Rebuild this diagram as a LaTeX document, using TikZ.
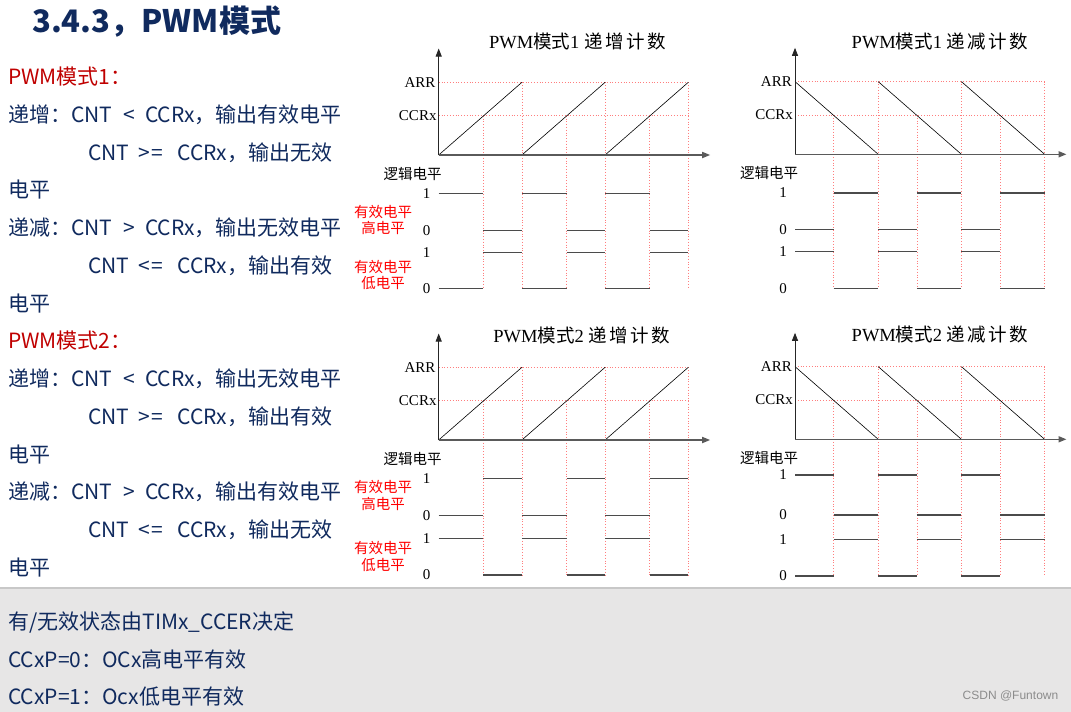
\documentclass[tikz,border=0pt]{standalone}
\usepackage{fontspec}
\setmainfont{Liberation Serif}
\newfontfamily\cjk{Noto Sans CJK SC}
\newfontfamily\wsans{Liberation Sans}
\usetikzlibrary{arrows.meta}
\definecolor{navy}{RGB}{16,42,94}
\definecolor{dred}{RGB}{192,0,0}
\definecolor{dotred}{RGB}{255,125,125}
\definecolor{bandgray}{RGB}{231,230,230}
\definecolor{bandline}{RGB}{200,200,200}
\definecolor{wavec}{RGB}{75,75,75}
\definecolor{axisc}{RGB}{90,90,90}
\tikzset{
  reddot/.style={draw=dotred, line width=0.6pt, dash pattern=on 1pt off 1.8pt},
  ramp/.style={draw=black, line width=0.6pt},
  wave/.style={draw=wavec, line width=1.2pt},
  xax/.style={draw=axisc, line width=1.6pt, -{Triangle[length=8pt,width=6pt]}},
  yax/.style={draw=black!85, line width=0.9pt, -{Triangle[length=8pt,width=6pt]}},
  lab/.style={font=\fontsize{15}{15}\selectfont, inner sep=0pt, text=black},
  cnlab/.style={font=\cjk\fontsize{14.5}{14.5}\selectfont, inner sep=0pt, text=black},
  redlab/.style={font=\cjk\fontsize{14.5}{14.5}\selectfont, inner sep=0pt, text=red},
  ptitle/.style={font=\fontsize{18.5}{18.5}\selectfont, inner sep=0pt, text=black},
  body/.style={font=\cjk\fontsize{21}{21}\selectfont, text=navy, anchor=west, inner sep=0pt},
  bodyred/.style={body, text=dred},
}
\newcommand\pwmLT{\hspace{11pt}<\hspace{10pt}}
\newcommand\pwmGT{\hspace{11pt}>\hspace{10pt}}
\newcommand\pwmGE{\hspace{9pt}>\hspace{1pt}=\hspace{15pt}}
\newcommand\pwmLE{\hspace{9pt}<\hspace{1pt}=\hspace{15pt}}
\newcommand\pwmSP{\hspace{2.5pt}}
% #1 name, #2 x0, #3 axis y, #4 1=up 0=down, #5 1=top wave starts high
\newcommand\pwmpanel[5]{%
\begin{scope}[shift={(#2,#3)}]
  \def\P{83.2}
  \ifnum#4=1 \def\cc{44.6}\else\def\cc{38.6}\fi
  \ifnum#5=1 \let\A\la \let\B\lb \let\C\ld \let\D\lc
  \else \let\A\lb \let\B\la \let\C\lc \let\D\ld \fi
  \draw[reddot] (0,-72.7) -- ({3*\P},-72.7);
  \draw[reddot] (0,-39.3) -- ({3*\P},-39.3);
  \foreach \k in {0,1,2}{
    \draw[reddot] ({\k*\P+\cc},-39.3) -- ({\k*\P+\cc},\ld);
    \draw[reddot] ({(\k+1)*\P},-72.7) -- ({(\k+1)*\P},\ld);
  }
  \foreach \k in {0,1,2}{
    \ifnum#4=1
      \draw[ramp] ({\k*\P},0) -- ({(\k+1)*\P},-72.7);
    \else
      \draw[ramp] ({\k*\P},-72.7) -- ({(\k+1)*\P},0);
    \fi
  }
  \draw[yax] (0,0) -- (0,-106.5);
  \draw[xax] (0,0) -- (271.5,0);
  \foreach \k in {0,1,2}{
    \draw[wave] ({\k*\P},\A) -- ({\k*\P+\cc},\A);
    \draw[wave] ({\k*\P+\cc},\B) -- ({(\k+1)*\P},\B);
    \draw[wave] ({\k*\P},\C) -- ({\k*\P+\cc},\C);
    \draw[wave] ({\k*\P+\cc},\D) -- ({(\k+1)*\P},\D);
  }
  \node[lab, anchor=east] (#1arr) at (-3,-72.7) {ARR};
  \node[lab, anchor=east] (#1ccr) at (-2,-39.3) {CCRx};
  \node[cnlab] (#1lj) at (-26,19) {逻辑电平};
  \node[lab] (#1a) at (-12,\la) {1};
  \node[lab] (#1b) at (-12,\lb) {0};
  \node[lab] (#1c) at (-12,\lc) {1};
  \node[lab] (#1d) at (-12,\ld) {0};
\end{scope}}
\begin{document}
\begin{tikzpicture}[x=1pt,y=-1pt]
\useasboundingbox (0,0) rectangle (1071,712);
\fill[white] (0,0) rectangle (1071,712);
% bottom band
\fill[bandgray] (0,588) rectangle (1071,712);
\draw[bandline, line width=1.2pt] (0,588) -- (1071,588);

% heading
\node[font=\cjk\bfseries\fontsize{31}{31}\selectfont, text=navy, anchor=west, inner sep=0pt] (head) at (32,22) {3.4.3，PWM模式};

% left text
\node[bodyred] (t1) at (8,77) {PWM模式1：};
\node[body] (t2) at (8,114.5) {递增：CNT\pwmLT CCRx，输出有效电平};
\node[body] (t3) at (88,152.5) {CNT\pwmGE CCRx，输出无效};
\node[body] (t4) at (8,190) {电平};
\node[body] (t5) at (8,228) {递减：CNT\pwmGT CCRx，输出无效电平};
\node[body] (t6) at (88,266) {CNT\pwmLE CCRx，输出有效};
\node[body] (t7) at (8,303.5) {电平};
\node[bodyred] (t8) at (8,341) {PWM模式2：};
\node[body] (t9) at (8,379) {递增：CNT\pwmLT CCRx，输出无效电平};
\node[body] (t10) at (88,417) {CNT\pwmGE CCRx，输出有效};
\node[body] (t11) at (8,454.5) {电平};
\node[body] (t12) at (8,492) {递减：CNT\pwmGT CCRx，输出有效电平};
\node[body] (t13) at (88,530) {CNT\pwmLE CCRx，输出无效};
\node[body] (t14) at (8,568) {电平};

% band text
\node[body] (b1) at (8,622) {有/无效状态由TIMx\_CCER决定};
\node[body] (b2) at (8,660) {CCxP=0：OCx高电平有效};
\node[body] (b3) at (8,697) {CCxP=1：Ocx低电平有效};
\node[font=\wsans\fontsize{12}{12}\selectfont, text=black!45, inner sep=0pt] (wm) at (1010.5,696) {CSDN @Funtown};

% panels
\def\la{38.7}\def\lb{75.3}\def\lc{97.3}\def\ld{133.3}
\pwmpanel{tl}{438.7}{155}{1}{1}
\def\la{38.7}\def\lb{75.4}\def\lc{97.4}\def\ld{134}
\pwmpanel{tr}{795}{154.3}{0}{0}
\def\la{38.7}\def\lb{75.3}\def\lc{98.3}\def\ld{135}
\pwmpanel{bl}{438.7}{440}{1}{0}
\def\la{35.7}\def\lb{75.7}\def\lc{100}\def\ld{136.7}
\pwmpanel{br}{795}{439.3}{0}{1}

% panel titles
\node[ptitle] (ttl) at (577.3,41.5) {PWM{\cjk 模式}1 {\cjk 递\pwmSP 增\pwmSP 计\pwmSP 数}};
\node[ptitle] (ttr) at (940,41) {PWM{\cjk 模式}1 {\cjk 递\pwmSP 减\pwmSP 计\pwmSP 数}};
\node[ptitle] (tbl) at (581.7,335) {PWM{\cjk 模式}2 {\cjk 递\pwmSP 增\pwmSP 计\pwmSP 数}};
\node[ptitle] (tbr) at (940,334.3) {PWM{\cjk 模式}2 {\cjk 递\pwmSP 减\pwmSP 计\pwmSP 数}};

% red side labels
\node[redlab] (r1) at (383,211.7) {有效电平};
\node[redlab] (r2) at (383,228.3) {高电平};
\node[redlab] (r3) at (383,266.7) {有效电平};
\node[redlab] (r4) at (383,283.3) {低电平};
\node[redlab] (r5) at (383,486.7) {有效电平};
\node[redlab] (r6) at (383,504.3) {高电平};
\node[redlab] (r7) at (383,547.7) {有效电平};
\node[redlab] (r8) at (383,565) {低电平};
\end{tikzpicture}
\end{document}
